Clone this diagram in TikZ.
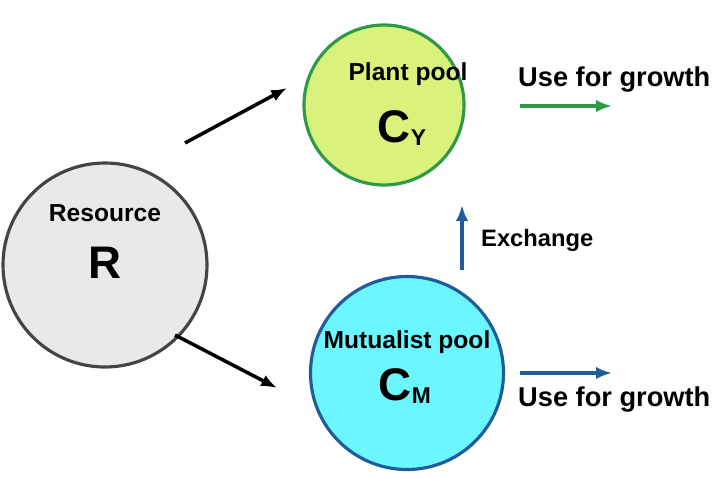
\documentclass[tikz,border=0pt]{standalone}
\usepackage{fontspec}
\setmainfont{Liberation Sans}
\usetikzlibrary{arrows.meta}
\begin{document}
\begin{tikzpicture}[x=0.02cm,y=-0.02cm,font=\bfseries,
 pool/.style={circle,line width=1.8pt,inner sep=0pt},
 arr/.style={-{Latex[length=9pt,width=7pt]},line width=2pt}]
\useasboundingbox (0,0) rectangle (716,477);
\definecolor{plantfill}{HTML}{D9F27C}\definecolor{plantline}{HTML}{2E9A48}
\definecolor{mutfill}{HTML}{6CF6FF}\definecolor{mutline}{HTML}{1F5C9C}
\definecolor{resfill}{HTML}{E9E9E9}\definecolor{resline}{HTML}{444444}
\node[pool,fill=resfill,draw=resline,minimum size=204*0.02cm] (R) at (105,265) {};
\node[pool,fill=plantfill,draw=plantline,minimum size=160*0.02cm] (P) at (384,105) {};
\node[pool,fill=mutfill,draw=mutline,minimum size=193*0.02cm] (M) at (407,373) {};
\node[font=\bfseries\fontsize{14}{16}\selectfont] (rl) at (105,213) {Resource};
\node[font=\bfseries\fontsize{26}{28}\selectfont] (rs) at (105,263) {R};
\node[font=\bfseries\fontsize{14}{16}\selectfont] (pl) at (408,74) {Plant pool};
\node[font=\bfseries\fontsize{26}{28}\selectfont] (ps) at (402,128) {C\raisebox{-0.05em}{\fontsize{13}{14}\selectfont Y}};
\node[font=\bfseries\fontsize{14}{16}\selectfont] (ml) at (407,342) {Mutualist pool};
\node[font=\bfseries\fontsize{26}{28}\selectfont] (ms) at (405,386) {C\raisebox{-0.05em}{\fontsize{13}{14}\selectfont M}};
\coordinate (a1) at (185,143); \coordinate (a2) at (287,88);
\coordinate (b1) at (175,335); \coordinate (b2) at (277,388);
\draw[arr] (a1) -- (a2);
\draw[arr] (b1) -- (b2);
\coordinate (e1) at (462,270); \coordinate (e2) at (462,205);
\draw[arr,mutline] (e1) -- (e2);
\node[font=\bfseries\fontsize{13.5}{16}\selectfont,anchor=west] (ex) at (475,240) {Exchange};
\coordinate (g1) at (520,106); \coordinate (g2) at (612,106);
\draw[arr,plantline] (g1) -- (g2);
\coordinate (h1) at (520,373); \coordinate (h2) at (612,373);
\draw[arr,mutline] (h1) -- (h2);
\node[font=\bfseries\fontsize{15.5}{18}\selectfont,anchor=west] (u1) at (512,80) {Use for growth};
\node[font=\bfseries\fontsize{15.5}{18}\selectfont,anchor=west] (u2) at (512,400) {Use for growth};
\end{tikzpicture}
\end{document}
